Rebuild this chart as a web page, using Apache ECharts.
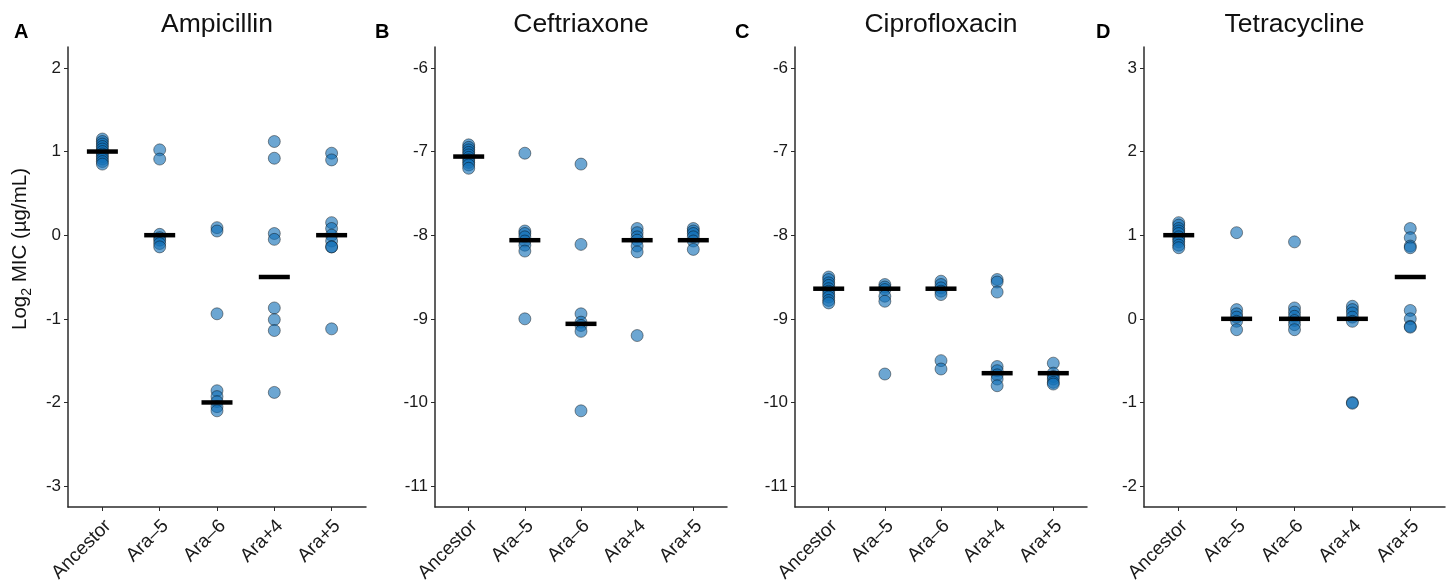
<!DOCTYPE html>
<html>
<head>
<meta charset="utf-8">
<script src="https://cdn.jsdelivr.net/npm/echarts@6/dist/echarts.min.js"></script>
<style>
  html, body { margin: 0; padding: 0; background: #fff; }
  #chart { width: 1448px; height: 582px; }
</style>
</head>
<body>
<div id="chart"></div>
<script>
  // categories and panel names
  const categories = ['Ancestor', 'Ara\u20135', 'Ara\u20136', 'Ara+4', 'Ara+5']
  const drugs = ['Ampicillin', 'Ceftriaxone', 'Ciprofloxacin', 'Tetracycline']
  const letters = ['A', 'B', 'C', 'D']

  // y tick labels of each panel
  const ticksA = [-3, -2, -1, 0, 1, 2]
  const ticksB = [-11, -10, -9, -8, -7, -6]
  const ticksC = [-11, -10, -9, -8, -7, -6]
  const ticksD = [-2, -1, 0, 1, 2, 3]

  // log2 MIC values per category (jittered)
  const ampicillin = [
    [1.15, 1.12, 1.09, 1.06, 1.03, 1.0, 0.97, 0.94, 0.91, 0.88, 0.85],
    [1.02, 0.91, 0.01, -0.03, -0.06, -0.1, -0.14],
    [0.09, 0.05, -0.94, -1.86, -1.93, -1.99, -2.05, -2.1],
    [1.12, 0.92, 0.02, -0.05, -0.87, -1.01, -1.14, -1.88],
    [0.98, 0.9, 0.15, 0.08, 0.0, -0.07, -0.14, -0.14, -1.12]
  ]
  const ampicillinMedian = [1, 0, -2, -0.5, 0]

  const ceftriaxone = [
    [-6.92, -6.95, -6.98, -7.01, -7.04, -7.07, -7.1, -7.13, -7.16, -7.2],
    [-7.02, -7.95, -7.98, -8.02, -8.07, -8.12, -8.19, -9.0],
    [-7.15, -8.11, -8.94, -9.04, -9.08, -9.15, -10.1],
    [-7.92, -7.97, -8.02, -8.06, -8.13, -8.2, -9.2],
    [-7.92, -7.95, -7.98, -8.02, -8.07, -8.17]
  ]
  const ceftriaxoneMedian = [-7.06, -8.06, -9.06, -8.06, -8.06]

  const ciprofloxacin = [
    [-8.5, -8.53, -8.57, -8.6, -8.64, -8.67, -8.71, -8.74, -8.78, -8.81],
    [-8.59, -8.62, -8.65, -8.73, -8.79, -9.66],
    [-8.55, -8.59, -8.63, -8.67, -8.71, -9.5, -9.6],
    [-8.53, -8.56, -8.68, -9.57, -9.62, -9.67, -9.72, -9.8],
    [-9.53, -9.65, -9.69, -9.72, -9.76, -9.78]
  ]
  const ciprofloxacinMedian = [-8.64, -8.64, -8.64, -9.65, -9.65]

  const tetracycline = [
    [1.15, 1.12, 1.08, 1.05, 1.02, 0.98, 0.95, 0.92, 0.88, 0.85],
    [1.03, 0.11, 0.06, 0.02, -0.03, -0.13],
    [0.92, 0.13, 0.08, 0.03, -0.02, -0.07, -0.13],
    [0.15, 0.11, 0.07, 0.02, -0.03, -1.0, -1.01],
    [1.08, 0.97, 0.87, 0.85, 0.1, 0.0, -0.09, -0.1]
  ]
  const tetracyclineMedian = [1, 0, 0, 0, 0.5]

  const panelValues = [ampicillin, ceftriaxone, ciprofloxacin, tetracycline]
  const panelMedians = [ampicillinMedian, ceftriaxoneMedian, ciprofloxacinMedian, tetracyclineMedian]
  const panelTicks = [ticksA, ticksB, ticksC, ticksD]

  // panel placement in pixels
  const panelLeft = [68, 435, 795, 1144]
  const panelWidth = [298, 292, 292, 301]
  const panelTop = 47
  const panelHeight = 460

  const font = "'Liberation Sans', Arial, sans-serif"
  const axisColor = '#2b2b2b'

  let grid = [], xAxis = [], yAxis = [], series = [], graphic = []

  for (let p = 0; p < 4; p++) {
    grid.push({
      left: panelLeft[p], top: panelTop, width: panelWidth[p], height: panelHeight,
      containLabel: false, outerBoundsMode: 'none'
    })
    let catIdx = categories.map((c, i) => i + 1)
    // rotated labels end slightly right of their tick, as in the figure
    let labelPos = catIdx.map(i => i + 0.1)
    xAxis.push({
      gridIndex: p, type: 'value', min: 0.4, max: 5.6,
      axisLine: {show: true, onZero: false, lineStyle: {color: axisColor, width: 1.5}},
      axisTick: {show: true, customValues: catIdx, length: 4, lineStyle: {color: axisColor}},
      axisLabel: {
        customValues: labelPos, rotate: 45, margin: 16, fontSize: 19, color: '#1a1a1a', fontFamily: font,
        formatter: v => categories[Math.round(v) - 1]
      },
      splitLine: {show: false}
    })
    let t = panelTicks[p]
    yAxis.push({
      gridIndex: p, type: 'value', min: t[0] - 0.25, max: t[t.length - 1] + 0.25,
      axisLine: {show: true, onZero: false, lineStyle: {color: axisColor, width: 1.5}},
      axisTick: {show: true, customValues: t, length: 4, lineStyle: {color: axisColor}},
      axisLabel: {customValues: t, margin: 7, fontSize: 17, color: '#1a1a1a', fontFamily: font},
      splitLine: {show: false}
    })

    let pts = []
    panelValues[p].forEach((vals, i) => vals.forEach(v => pts.push([i + 1, v])))
    series.push({
      type: 'scatter', xAxisIndex: p, yAxisIndex: p, symbolSize: 12, data: pts,
      itemStyle: {color: 'rgba(18,112,182,0.62)', borderColor: 'rgba(0,0,0,0.6)', borderWidth: 0.7, opacity: 1},
      emphasis: {disabled: true}, z: 2
    })
    series.push({
      type: 'scatter', xAxisIndex: p, yAxisIndex: p, symbol: 'rect', symbolSize: [31, 4.5],
      data: panelMedians[p].map((m, i) => [i + 1, m]),
      itemStyle: {color: '#000', opacity: 1}, emphasis: {disabled: true}, z: 3
    })

    graphic.push({
      type: 'text', x: panelLeft[p] + panelWidth[p] / 2, y: 25,
      style: {text: drugs[p], fontSize: 26.5, fontFamily: font, fill: '#111', align: 'center', verticalAlign: 'middle'}
    })
  }

  const letterX = [14, 375, 735, 1096]
  letters.forEach((l, i) => graphic.push({
    type: 'text', x: letterX[i], y: 32,
    style: {text: l, fontSize: 20, fontWeight: 'bold', fontFamily: font, fill: '#000', align: 'left', verticalAlign: 'middle'}
  }))

  graphic.push({
    type: 'text', x: 20, y: 249, rotation: Math.PI / 2,
    style: {
      text: '{a|Log}{b|2}{a| MIC (\u00b5g/mL)}', align: 'center', verticalAlign: 'middle',
      rich: {
        a: {fontSize: 20.5, fontFamily: font, fill: '#111', lineHeight: 28},
        b: {fontSize: 14, fontFamily: font, fill: '#111', lineHeight: 28, verticalAlign: 'bottom'}
      }
    }
  })

  const chart = echarts.init(document.getElementById('chart'))
  chart.setOption({
    animation: false,
    backgroundColor: '#fff',
    grid: grid,
    xAxis: xAxis,
    yAxis: yAxis,
    series: series,
    graphic: graphic
  })
</script>
</body>
</html>
